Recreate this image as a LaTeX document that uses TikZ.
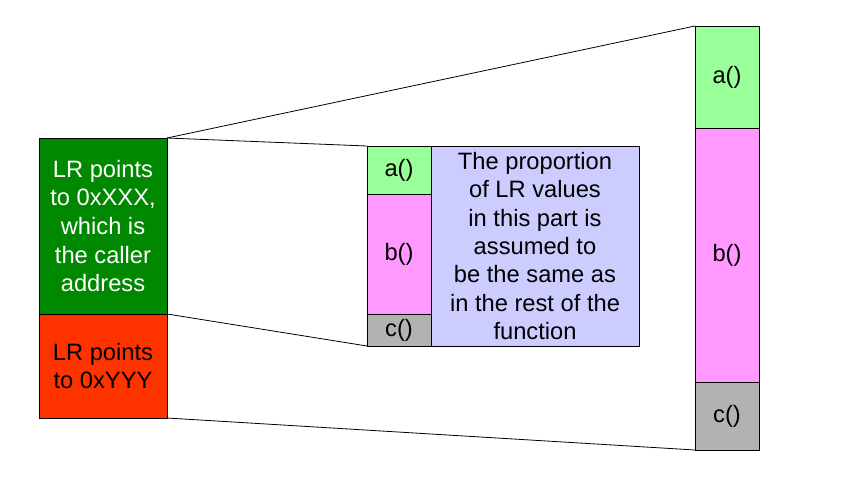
\documentclass[tikz,border=0pt]{standalone}
\usepackage{fontspec}
\setmainfont{Liberation Sans}
\usetikzlibrary{positioning}
\definecolor{LrCaller}{RGB}{0,136,0}
\definecolor{LrOther}{RGB}{255,51,0}
\definecolor{FnA}{RGB}{153,255,153}
\definecolor{FnB}{RGB}{255,153,255}
\definecolor{FnC}{RGB}{178,178,178}
\definecolor{FnNote}{RGB}{204,204,255}
\tikzset{
  prof box/.style={
    draw=black,
    line width=0.8pt,
    inner sep=0pt,
    outer sep=0pt,
    align=center,
    font=\fontsize{23.7}{28.7}\selectfont
  },
  prof lr/.style={prof box, minimum width=128pt},
  prof fn/.style={prof box, minimum width=64pt},
  prof note/.style={prof box, fill=FnNote, minimum width=208pt, minimum height=200pt, font=\fontsize{23.7}{28.3}\selectfont},
  prof link/.style={black, line width=0.8pt}
}
\begin{document}
\begin{tikzpicture}[x=1pt, y=-1pt]
\useasboundingbox (0,0) rectangle (849,482);
% sampled LR values
\node[prof lr, fill=LrCaller, text=white, minimum height=176pt, anchor=north west] (caller) at (39,138) {LR points\\to 0xXXX,\\which is\\the caller\\address};
\node[prof lr, fill=LrOther, minimum height=104pt, below=0pt of caller] (other) {LR points\\to 0xYYY};
% part of the samples
\node[prof fn, fill=FnA, minimum height=48pt, anchor=north west] (sa) at (367,146) {a()};
\node[prof fn, fill=FnB, minimum height=120pt, below=0pt of sa] (sb) {b()};
\node[prof fn, fill=FnC, minimum height=32pt, below=0pt of sb] (sc) {c()};
\node[prof note, anchor=north west] (note) at (sa.north east) {The proportion\\of LR values\\in this part is\\assumed to\\be the same as\\in the rest of the\\function};
% whole function
\node[prof fn, fill=FnA, minimum height=102pt, anchor=north west] (fa) at (695,26) {a()};
\node[prof fn, fill=FnB, minimum height=254pt, below=0pt of fa] (fb) {b()};
\node[prof fn, fill=FnC, minimum height=68pt, below=0pt of fb] (fc) {c()};
\draw[prof link] (caller.north east) -- (fa.north west);
\draw[prof link] (caller.north east) -- (sa.north west);
\draw[prof link] (caller.south east) -- (sc.south west);
\draw[prof link] (other.south east) -- (fc.south west);
\end{tikzpicture}
\end{document}
